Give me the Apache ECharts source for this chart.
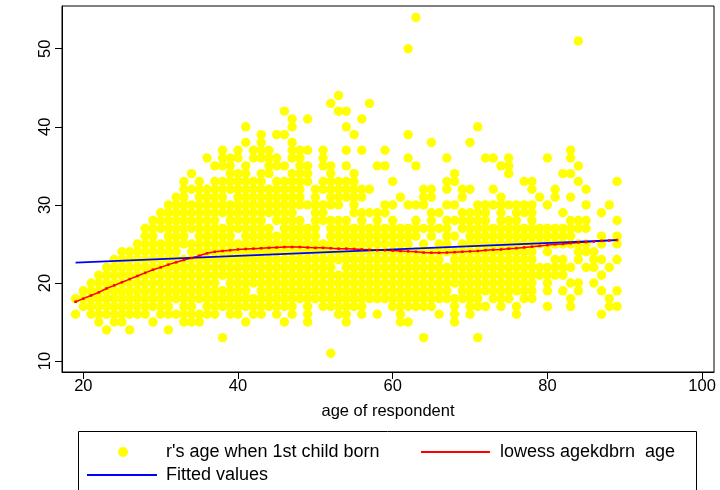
<!DOCTYPE html>
<html>
<head>
<meta charset="utf-8">
<script src="https://cdn.jsdelivr.net/npm/echarts@6/dist/echarts.min.js"></script>
<style>
html,body{margin:0;padding:0;background:#fff;}
#chart{width:720px;height:490px;}
</style>
</head>
<body>
<div id="chart"></div>
<script>
// ---- data ----
var ages = [19,20,21,22,23,24,25,26,27,28,29,30,31,32,33,34,35,36,37,38,39,40,41,42,43,44,45,46,47,48,49,50,51,52,53,54,55,56,57,58,59,60,61,62,63,64,65,66,67,68,69,70,71,72,73,74,75,76,77,78,79,80,81,82,83,84,85,86,87,88,89];

// observed "age when 1st child born" values for each respondent age (same order as ages)
var ageKidBorn = [
[16,18],
[17,18,19],
[16,17,18,19,20],
[15,16,17,18,19,20,21],
[14,16,17,18,19,20,21,22],
[15,16,17,18,19,20,21,22,23],
[15,16,17,18,19,20,21,22,23,24],
[14,16,17,18,19,20,21,22,23,24],
[16,17,18,19,20,21,22,23,24,25],
[16,17,18,19,20,21,22,23,24,25,26,27],
[15,17,18,19,20,21,22,23,24,25,26,27,28],
[16,17,18,19,20,21,22,23,24,25,27,28,29],
[14,16,17,18,19,20,21,22,23,24,25,26,27,28,29,30],
[16,18,19,20,21,22,23,24,25,26,27,28,29,30,31],
[15,16,17,18,19,20,21,22,23,25,26,27,28,29,30,31,32,33],
[15,16,17,18,19,20,21,22,23,24,25,27,28,29,30,32,34],
[15,16,18,19,20,21,22,23,24,25,26,27,28,29,30,31,32,33],
[16,17,18,19,20,21,22,23,24,25,26,27,28,29,30,31,32,36],
[16,17,18,19,20,21,22,23,24,25,26,27,28,29,30,31,32,33,35],
[13,17,18,19,21,22,23,24,25,26,27,29,30,31,32,33,35,36,37],
[16,17,18,19,20,21,22,23,24,25,26,27,28,29,30,32,33,34,35,36],
[16,17,18,19,20,21,22,23,24,25,27,28,29,30,31,32,33,34,36,37],
[15,17,18,19,20,21,22,23,24,25,26,27,28,29,30,31,32,33,34,35,38,40],
[16,17,18,20,21,22,23,24,25,26,27,28,29,30,31,32,33,36,37],
[16,17,18,19,20,21,22,23,24,25,26,27,28,29,30,31,32,33,34,36,37,38,39],
[17,18,19,20,21,22,23,24,25,26,27,29,30,31,32,34,35,36,37],
[16,17,18,19,20,21,22,23,24,25,26,28,29,30,31,32,33,35,36,39],
[15,17,18,19,20,21,22,23,24,25,26,27,28,29,30,31,32,33,35,39,42],
[16,17,18,19,20,21,22,23,24,25,26,27,28,29,30,31,32,33,34,36,37,38,40,41],
[18,19,20,21,22,23,24,25,26,27,28,30,31,32,33,34,35,36,37],
[15,16,17,18,19,20,21,22,23,24,25,26,27,30,33,34,35,37,41],
[18,19,20,21,22,23,24,25,26,27,28,29,30,31,32],
[17,18,19,20,21,22,23,24,25,28,29,30,32,33,35,36,37],
[11,17,18,19,20,21,22,23,24,25,26,27,28,30,31,32,33,34,35,43],
[16,17,18,19,20,21,23,24,25,26,27,28,30,31,32,33,42,44],
[15,16,17,18,19,20,21,22,23,24,25,26,27,28,31,32,33,35,37,40,42],
[17,18,19,20,21,22,23,24,25,26,27,29,30,31,32,33,34,39],
[16,17,18,19,20,21,22,23,24,25,26,27,28,29,31,32,37,41],
[18,19,20,21,22,23,24,25,26,27,29,32,43],
[16,18,19,20,21,22,23,24,25,26,27,28,29,35],
[18,19,20,21,22,23,24,25,26,27,29,30,35,37],
[17,18,19,20,21,22,23,24,25,26,27,28,30,33],
[15,16,17,18,19,20,21,22,23,24,25,26,27,31],
[15,17,18,19,20,21,22,23,24,25,26,27,30,36,39,50],
[17,18,19,20,21,22,23,24,26,27,28,30,35,54],
[13,17,18,19,20,21,22,23,24,25,27,30,31,32],
[17,18,19,20,21,22,23,24,26,27,28,29,31,32,38],
[16,18,19,20,21,22,23,24,25,27,29],
[18,19,20,21,22,24,25,26,27,28,30,32,33,36],
[15,16,17,18,20,21,22,23,24,26,28,30,33,34],
[18,19,20,21,22,23,24,25,27,28,29,31,32],
[16,17,18,19,20,21,22,23,24,25,26,27,28,29,32,38],
[13,17,18,19,20,21,22,23,24,25,26,27,28,29,30,40],
[17,19,20,21,22,23,24,25,26,27,28,29,30,36],
[18,19,20,21,22,23,24,25,26,27,30,32,36],
[17,18,19,20,21,22,23,24,25,26,27,28,29,30,31,35],
[18,19,20,21,22,23,24,25,26,27,28,30,34,35,36],
[16,17,19,20,21,22,23,24,25,26,27,28,29,30],
[18,19,20,21,22,23,24,25,26,27,29,30,33],
[18,19,20,21,22,23,24,25,26,27,28,29,30,32,33],
[21,22,25,26,27,31],
[17,19,20,21,22,24,25,26,27,30,36],
[21,22,23,25,26,27,31,32],
[19,21,22,23,25,26,27,29,34],
[17,18,20,22,25,26,27,28,31,34,36,37],
[19,20,23,24,25,27,28,33,35,51],
[22,24,25,27,28,30,32],
[20,22,23,24],
[16,19,21,23,25,26,29],
[17,18,22,30],
[17,19,23,25,26,28,33]
];

// lowess smooth of agekdbrn on age, one value per age
var lowessVals = [17.6,18.0,18.4,18.8,19.3,19.7,20.1,20.5,20.9,21.3,21.7,22.0,22.35,22.65,22.95,23.2,23.5,23.8,24.0,24.1,24.2,24.3,24.35,24.4,24.45,24.5,24.55,24.6,24.6,24.6,24.55,24.5,24.5,24.45,24.4,24.4,24.35,24.3,24.25,24.2,24.2,24.15,24.1,24.05,24.0,23.9,23.88,23.87,23.9,23.95,24.0,24.05,24.1,24.2,24.25,24.3,24.4,24.45,24.55,24.65,24.75,24.85,24.95,25.0,25.1,25.2,25.25,25.3,25.4,25.45,25.5];

// linear fit (Fitted values) at the ends of the age range
var fitAges = [19, 89];
var fitVals = [22.6, 25.5];

var xTicks = [20, 40, 60, 80, 100];
var yTicks = [10, 20, 30, 40, 50];

var nameScatter = "r's age when 1st child born";
var nameLowess = "lowess agekdbrn  age";
var nameFit = "Fitted values";

// ---- build series data ----
var scatterData = [];
for (var i = 0; i < ages.length; i++) {
  for (var j = 0; j < ageKidBorn[i].length; j++) {
    scatterData.push([ages[i], ageKidBorn[i][j]]);
  }
}
var lowessData = ages.map(function (a, i) { return [a, lowessVals[i]]; });
var fitData = fitAges.map(function (a, i) { return [a, fitVals[i]]; });

var FONT = 'Liberation Sans, Arial, Helvetica, sans-serif';
var legendText = {color: '#000', fontSize: 18, fontFamily: FONT};
var chart = echarts.init(document.getElementById('chart'), null, {renderer: 'canvas'});
chart.setOption({
  animation: false,
  backgroundColor: '#fff',
  grid: {left: 62, right: 6, top: 6, bottom: 118, show: true, borderColor: '#000', borderWidth: 1, backgroundColor: 'transparent'},
  xAxis: {
    type: 'value', min: 17.246, max: 101.54,
    axisLine: {show: true, lineStyle: {color: '#000', width: 1}},
    axisTick: {show: true, length: 7, customValues: xTicks, lineStyle: {color: '#000'}},
    axisLabel: {customValues: xTicks, color: '#000', fontSize: 16.5, fontFamily: FONT, margin: 6},
    splitLine: {show: false},
    name: 'age of respondent', nameLocation: 'middle', nameGap: 31,
    nameTextStyle: {color: '#000', fontSize: 16.5, fontFamily: FONT}
  },
  yAxis: {
    type: 'value', min: 8.604, max: 55.47,
    axisLine: {show: true, lineStyle: {color: '#000', width: 1}},
    axisTick: {show: true, length: 7, customValues: yTicks, lineStyle: {color: '#000'}},
    axisLabel: {customValues: yTicks, color: '#000', fontSize: 16.5, fontFamily: FONT, rotate: 90, margin: 8},
    splitLine: {show: false}
  },
  legend: [
    {data: [nameScatter], left: 118, top: 443, padding: 0, icon: 'circle', itemWidth: 10, itemHeight: 10,
     textStyle: Object.assign({padding: [0, 0, 0, 33]}, legendText)},
    {data: [nameLowess], left: 421, top: 443, padding: 0, icon: 'rect', itemWidth: 69, itemHeight: 2,
     textStyle: Object.assign({padding: [0, 0, 0, 5]}, legendText)},
    {data: [nameFit], left: 87, top: 466, padding: 0, icon: 'rect', itemWidth: 70, itemHeight: 2,
     textStyle: Object.assign({padding: [0, 0, 0, 4]}, legendText)}
  ],
  graphic: [
    {type: 'rect', shape: {x: 78.5, y: 431.5, width: 618, height: 80}, style: {fill: 'none', stroke: '#000', lineWidth: 1}, silent: true}
  ],
  series: [
    {name: nameScatter, type: 'scatter', data: scatterData, symbol: 'circle', symbolSize: 9.4,
     itemStyle: {color: '#ffff00', opacity: 1}, large: false},
    {name: nameLowess, type: 'line', data: lowessData, color: '#ff0000', showSymbol: true, symbol: 'rect', symbolSize: 2.5,
     lineStyle: {color: '#ff0000', width: 1.5}, itemStyle: {color: '#ff0000'}, smooth: false},
    {name: nameFit, type: 'line', data: fitData, color: '#0000ff', showSymbol: false, symbol: 'none',
     lineStyle: {color: '#0000ff', width: 1.8}, itemStyle: {color: '#0000ff'}}
  ]
});
</script>
</body>
</html>
